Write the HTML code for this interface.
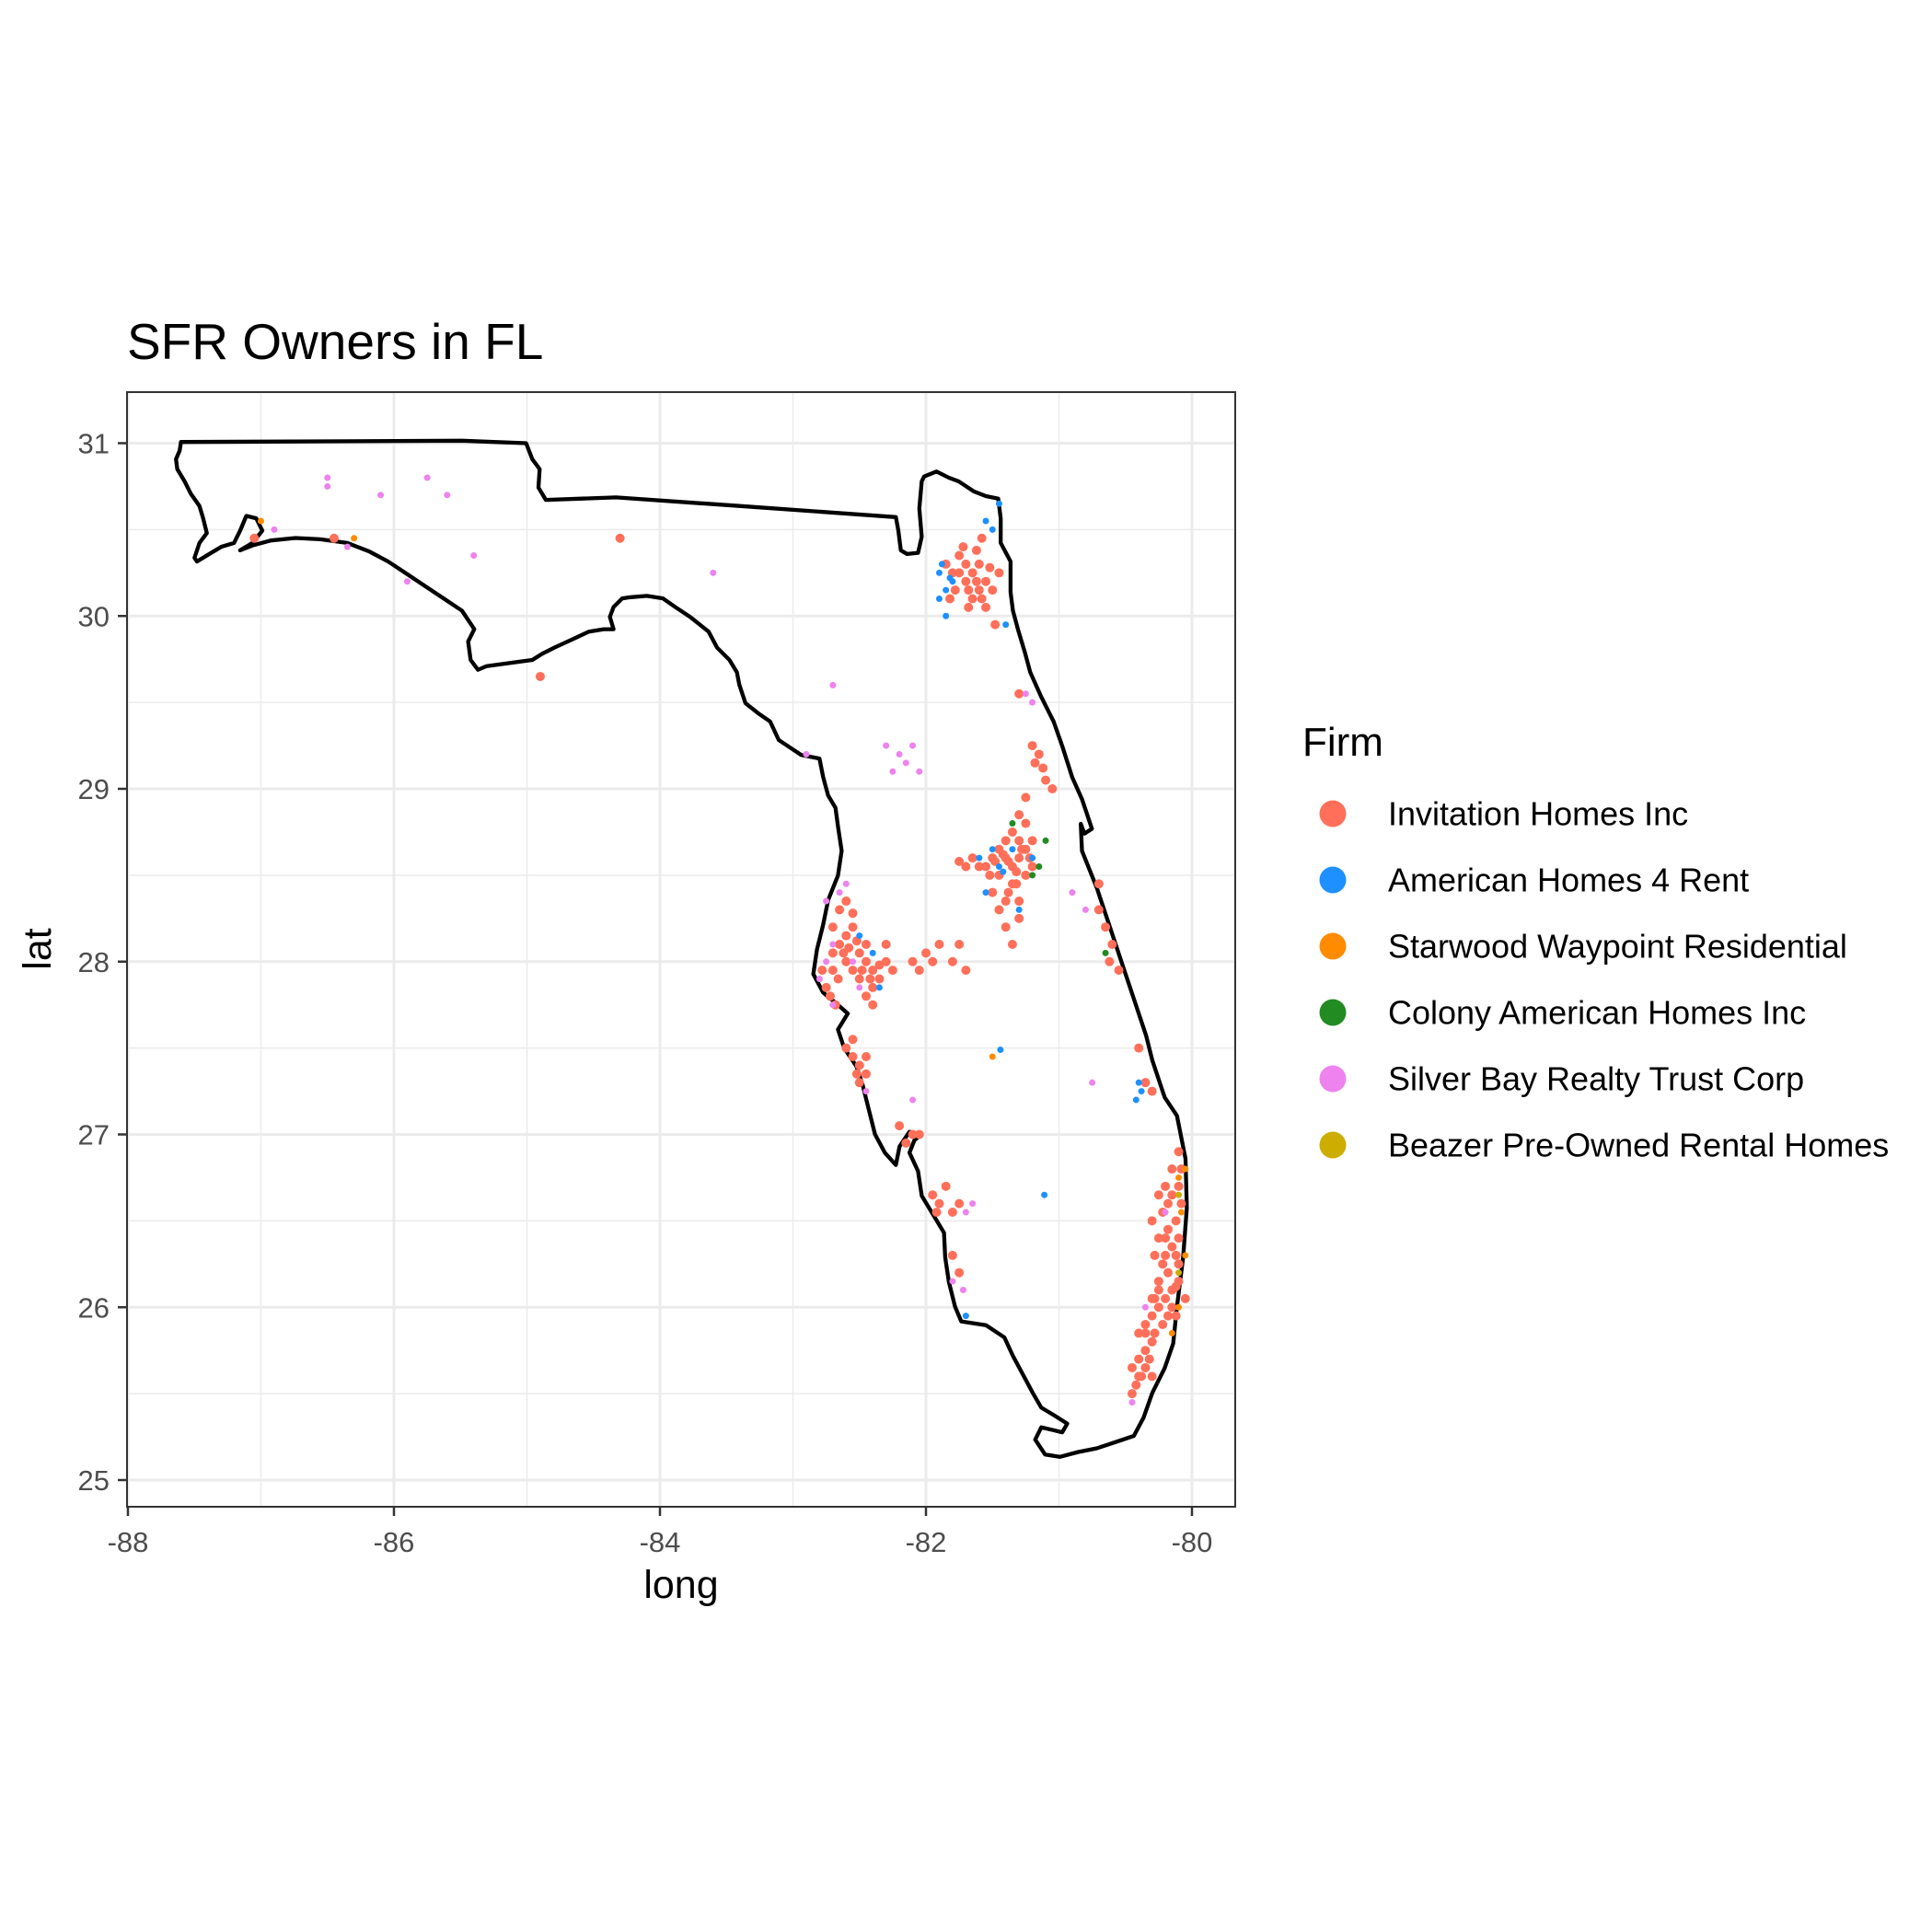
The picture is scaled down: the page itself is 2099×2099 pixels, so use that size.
<!DOCTYPE html>
<html><head><meta charset="utf-8"><style>
html,body{margin:0;padding:0;background:#fff;}
svg{display:block;font-family:"Liberation Sans",sans-serif;}
</style></head><body>
<svg id="chart" width="2099" height="2099" viewBox="0 0 2099 2099" xmlns="http://www.w3.org/2000/svg">
<rect width="2099" height="2099" fill="#fff"/>
<text x="138" y="390" font-size="55" fill="#000">SFR Owners in FL</text>
<g id="grid"></g>
<g id="map"></g>
<g id="pts"></g>
<rect x="138" y="426" width="1204" height="1211" fill="none" stroke="#333" stroke-width="2"/>
<g id="axes"></g>
<text x="740" y="1736" font-size="43" text-anchor="middle" fill="#000">long</text>
<text transform="translate(55,1031) rotate(-90)" font-size="43" text-anchor="middle" fill="#000">lat</text>
<g id="legend">
<text x="1415" y="821" font-size="44" fill="#000">Firm</text>
</g>
</svg>
<script>
const xTicks=[-88,-86,-84,-82,-80];
const yTicks=[25,26,27,28,29,30,31];
const firms=["Invitation Homes Inc","American Homes 4 Rent","Starwood Waypoint Residential","Colony American Homes Inc","Silver Bay Realty Trust Corp","Beazer Pre-Owned Rental Homes"];
const firmColors=["#FF6F59","#1E90FF","#FF8C00","#228B22","#EE82EE","#CDAD00"];
const invitationPts=[[-81.75,30.35],[-81.7,30.3],[-81.65,30.25],[-81.6,30.3],[-81.55,30.2],[-81.6,30.15],[-81.7,30.2],[-81.8,30.25],[-81.85,30.3],[-81.78,30.15],[-81.65,30.1],[-81.55,30.05],[-81.5,30.15],[-81.72,30.4],[-81.62,30.38],[-81.58,30.45],[-81.68,30.05],[-81.82,30.1],[-81.45,30.25],[-81.48,29.95],[-81.62,30.2],[-81.68,30.15],[-81.58,30.1],[-81.75,30.25],[-81.52,30.28],
[-81.2,29.25],[-81.15,29.2],[-81.1,29.05],[-81.05,29.0],[-81.18,29.15],[-81.3,29.55],[-81.12,29.12],
[-81.45,28.65],[-81.4,28.6],[-81.35,28.55],[-81.3,28.6],[-81.25,28.65],[-81.2,28.7],[-81.3,28.7],[-81.4,28.7],[-81.5,28.6],[-81.55,28.55],[-81.45,28.5],[-81.35,28.45],[-81.25,28.5],[-81.2,28.55],[-81.3,28.35],[-81.4,28.35],[-81.45,28.3],[-81.5,28.4],[-81.6,28.55],[-81.25,28.8],[-81.3,28.85],[-81.25,28.95],[-81.35,28.75],[-81.7,28.55],[-81.4,28.2],[-81.35,28.1],[-81.3,28.25],[-81.42,28.62],[-81.32,28.52],[-81.38,28.4],[-81.28,28.65],[-81.38,28.58],[-81.48,28.58],[-81.22,28.6],[-81.32,28.45],[-81.52,28.5],[-81.65,28.6],[-81.75,28.58],
[-82.7,28.2],[-82.65,28.1],[-82.6,28.0],[-82.55,27.95],[-82.5,28.05],[-82.45,28.0],[-82.4,27.95],[-82.35,27.9],[-82.4,27.85],[-82.45,27.8],[-82.5,27.9],[-82.6,28.15],[-82.55,28.2],[-82.45,28.1],[-82.3,28.0],[-82.7,27.95],[-82.75,27.85],[-82.72,27.8],[-82.68,27.75],[-82.65,28.3],[-82.6,28.35],[-82.3,28.1],[-82.25,27.95],[-82.4,27.75],[-82.7,28.05],[-82.62,28.05],[-82.52,28.12],[-82.58,28.08],[-82.48,27.95],[-82.35,27.98],[-82.42,27.9],[-82.66,27.9],[-82.78,27.95],[-82.55,28.28],
[-82.0,28.05],[-81.95,28.0],[-82.05,27.95],[-81.9,28.1],[-81.8,28.0],[-81.7,27.95],[-81.75,28.1],[-82.1,28.0],
[-82.6,27.5],[-82.55,27.45],[-82.5,27.4],[-82.45,27.35],[-82.5,27.3],[-82.55,27.55],[-82.45,27.45],[-82.52,27.35],
[-82.2,27.05],[-82.1,27.0],[-82.15,26.95],[-82.05,27.0],
[-81.95,26.65],[-81.9,26.6],[-81.85,26.7],[-81.8,26.55],[-81.75,26.6],[-81.8,26.3],[-81.75,26.2],[-81.92,26.55],
[-80.1,26.9],[-80.15,26.8],[-80.1,26.7],[-80.15,26.65],[-80.2,26.7],[-80.25,26.65],[-80.08,26.6],[-80.12,26.5],[-80.1,26.4],[-80.15,26.35],[-80.2,26.3],[-80.18,26.2],[-80.15,26.1],[-80.2,26.05],[-80.25,26.0],[-80.3,25.95],[-80.22,25.9],[-80.28,25.85],[-80.35,25.9],[-80.3,25.8],[-80.35,25.75],[-80.4,25.7],[-80.38,25.6],[-80.42,25.55],[-80.45,25.5],[-80.35,25.65],[-80.25,26.15],[-80.1,26.25],[-80.28,26.05],[-80.4,25.85],[-80.45,25.65],[-80.3,26.5],[-80.25,26.4],[-80.05,26.05],[-80.12,25.95],[-80.18,26.45],[-80.22,26.55],[-80.12,26.12],[-80.32,25.7],[-80.08,26.8],[-80.18,26.6],[-80.22,26.25],[-80.25,26.1],[-80.3,26.05],[-80.18,25.95],[-80.35,25.85],[-80.4,25.6],[-80.3,25.6],[-80.15,26.0],[-80.1,26.15],[-80.2,26.4],[-80.28,26.3],[-80.12,26.3],
[-80.7,28.45],[-80.65,28.2],[-80.6,28.1],[-80.62,28.0],[-80.55,27.95],[-80.7,28.3],
[-80.4,27.5],[-80.35,27.3],[-80.3,27.25],[-84.3,30.45],[-84.9,29.65],[-87.05,30.45],[-86.45,30.45]];
const ah4rPts=[[-81.9,30.25],[-81.85,30.15],[-81.8,30.2],[-81.9,30.1],[-81.5,30.5],[-81.45,30.65],[-81.55,30.55],[-81.4,29.95],[-81.85,30.0],[-81.88,30.3],[-81.82,30.22],
[-81.5,28.65],[-81.45,28.55],[-81.35,28.65],[-81.6,28.6],[-81.3,28.3],[-81.55,28.4],[-81.2,28.6],[-81.42,28.52],
[-82.35,27.85],[-82.5,28.15],[-82.4,28.05],[-80.4,27.3],[-80.38,27.25],[-80.42,27.2],[-81.44,27.49],[-81.11,26.65],[-81.7,25.95]];
const starwoodPts=[[-80.1,26.75],[-80.05,26.8],[-80.08,26.55],[-80.05,26.3],[-80.1,26.0],[-81.5,27.45],[-87.0,30.55],[-86.3,30.45],[-80.15,25.85]];
const colonyPts=[[-81.2,28.5],[-81.15,28.55],[-80.65,28.05],[-81.35,28.8],[-81.1,28.7]];
const silverPts=[[-82.3,29.25],[-82.2,29.2],[-82.15,29.15],[-82.1,29.25],[-82.25,29.1],[-82.05,29.1],
[-82.75,28.0],[-82.8,27.9],[-82.7,28.1],[-82.75,28.35],[-82.65,28.4],[-82.6,28.45],[-82.7,27.75],[-82.5,27.85],[-82.55,28.0],
[-81.65,26.6],[-81.7,26.55],[-81.8,26.15],[-81.72,26.1],[-81.25,29.55],[-81.2,29.5],[-80.45,25.45],[-80.35,26.0],[-80.2,26.55],
[-86.5,30.8],[-86.5,30.75],[-86.1,30.7],[-85.6,30.7],[-86.9,30.5],[-86.35,30.4],[-85.4,30.35],[-85.75,30.8],[-85.9,30.2],[-83.6,30.25],[-82.7,29.6],[-82.9,29.2],[-82.45,27.25],[-82.1,27.2],[-80.75,27.3],[-80.8,28.3],[-80.9,28.4]];
const beazerPts=[[-80.1,26.65],[-80.1,26.2]];
const allSeries=[invitationPts,ah4rPts,starwoodPts,colonyPts,silverPts,beazerPts];
const seriesNames=["invitation","ah4r","starwood","colony","silver-bay","beazer"];

const X0=139,X1=1295,LON0=-88,LON1=-80;
const Y0=481.5,Y1=1608,LAT0=31,LAT1=25;
function sx(lon){return X0+(lon-LON0)*(X1-X0)/(LON1-LON0);}
function sy(lat){return Y0+(lat-LAT0)*(Y1-Y0)/(LAT1-LAT0);}
const NS="http://www.w3.org/2000/svg";
function mk(t,a){const e=document.createElementNS(NS,t);for(const k in a)e.setAttribute(k,a[k]);return e;}

const grid=document.getElementById('grid');
for(let lon=-89;lon<=-79;lon+=1){const major=Math.abs(lon%2)===0;const x=sx(lon);if(x<138||x>1342)continue;
 const l=mk('line',{x1:x,x2:x,y1:426,y2:1637,stroke:'#EBEBEB','stroke-width':major?2.9:1.4});
 
 
 grid.appendChild(l);}
for(let lat=24.5;lat<=31.5;lat+=0.5){const major=lat%1===0;const y=sy(lat);if(y<426||y>1637)continue;
 const l=mk('line',{x1:138,x2:1342,y1:y,y2:y,stroke:'#EBEBEB','stroke-width':major?2.9:1.4});
 
 
 grid.appendChild(l);}

const outlineRef=[[147,358],[375,357],[427,359],[432,372],[438,380],[437,395],[443,405],[500,403],[600,410],[727,419],[729,430],[731,446],[736,449],[745,448],[748,435],[746,412],[748,390],[750,386],[760,382],[770,387],[778,390],[790,398],[800,402],[810,404],[812,420],[812,440],[820,455],[820,480],[822,495],[826,510],[832,530],[836,545],[845,565],[855,585],[862,605],[870,630],[878,648],[886,672],[880,676],[877,668],[878,690],[890,720],[900,750],[910,780],[920,810],[930,840],[935,860],[945,890],[955,905],[962,940],[963,980],[960,1020],[955,1060],[952,1090],[945,1110],[935,1130],[928,1150],[920,1165],[905,1170],[890,1175],[875,1178],[860,1182],[848,1180],[840,1168],[845,1158],[862,1162],[866,1155],[855,1148],[845,1142],[838,1130],[830,1115],[822,1100],[815,1085],[800,1075],[780,1072],[775,1060],[770,1040],[767,1020],[766,1000],[757,985],[748,970],[745,950],[738,935],[742,925],[748,920],[738,918],[730,930],[727,945],[718,935],[710,920],[705,900],[700,880],[695,865],[685,850],[680,835],[688,822],[680,815],[668,805],[660,790],[663,770],[668,750],[672,730],[680,710],[683,690],[680,670],[678,655],[672,645],[668,630],[665,615],[650,612],[632,600],[625,585],[615,578],[605,570],[600,555],[598,545],[592,535],[582,525],[575,512],[560,500],[548,492],[538,485],[525,483],[512,484],[505,485],[498,492],[495,500],[498,510],[490,510],[478,512],[465,518],[450,525],[440,530],[432,535],[410,538],[395,540],[388,543],[382,535],[380,520],[385,510],[375,495],[360,485],[345,475],[330,465],[315,455],[300,447],[282,440],[260,437],[240,436],[220,438],[205,442],[195,446],[205,440],[213,430],[208,420],[200,418],[195,430],[190,440],[180,443],[170,449],[160,455],[158,452],[162,440],[168,432],[165,420],[162,410],[155,400],[150,390],[144,380],[143,372],[146,365],[147,358]];
const outlineGeo=outlineRef.map(p=>[-88+(p[0]-104)/107.9,31-(p[1]-359)/140.3]);
const mp=mk('path',{d:'M'+outlineGeo.map(p=>sx(p[0]).toFixed(1)+','+sy(p[1]).toFixed(1)).join('L')+'Z',fill:'none',stroke:'#000','stroke-width':4.3,'stroke-linejoin':'round'});


document.getElementById('map').appendChild(mp);

const pts=document.getElementById('pts');
allSeries.forEach((s,i)=>{s.forEach(p=>{
 const c=mk('circle',{cx:sx(p[0]),cy:sy(p[1]),r:i===0?5:3.5,fill:firmColors[i]});
 
 
 pts.appendChild(c);});});

const axes=document.getElementById('axes');
xTicks.forEach(v=>{const x=sx(v);
 const t=mk('line',{x1:x,x2:x,y1:1637,y2:1647,stroke:'#333','stroke-width':2.5});
 
 
 axes.appendChild(t);
 const tx=mk('text',{x:x,y:1686,'font-size':31,'text-anchor':'middle',fill:'#4D4D4D'});tx.textContent=v;
 
 
 axes.appendChild(tx);});
yTicks.forEach(v=>{const y=sy(v);
 const t=mk('line',{x1:128,x2:138,y1:y,y2:y,stroke:'#333','stroke-width':2.5});
 
 
 axes.appendChild(t);
 const tx=mk('text',{x:119,y:y+11,'font-size':31,'text-anchor':'end',fill:'#4D4D4D'});tx.textContent=v;
 
 
 axes.appendChild(tx);});

const lg=document.getElementById('legend');
firms.forEach((f,i)=>{const y=884+i*72;
 const c=mk('circle',{cx:1448,cy:y,r:14.5,fill:firmColors[i]});
 
 
 lg.appendChild(c);
 const t=mk('text',{x:1508,y:y+12.5,'font-size':36,fill:'#000'});t.textContent=f;
 
 
 lg.appendChild(t);});
</script>
</body></html>
